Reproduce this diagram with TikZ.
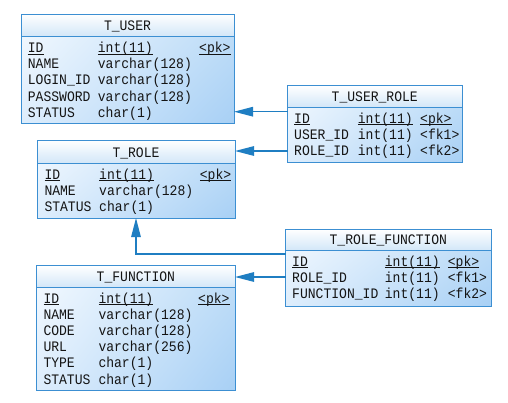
\documentclass[tikz,border=0pt]{standalone}
\usepackage{fontspec}
\newfontfamily\erfont{Liberation Mono}[FakeStretch=0.9]
\usetikzlibrary{arrows.meta,calc,shadings}
\definecolor{erborder}{HTML}{3C8FD2}
\definecolor{erline}{HTML}{1F7EC2}
\definecolor{bodyA}{HTML}{F5FAFF}
\definecolor{bodyL}{HTML}{DDEDFC}
\definecolor{bodyR}{HTML}{C2DFF8}
\definecolor{bodyB}{HTML}{A8D0F5}
\definecolor{headA}{HTML}{FFFFFF}
\definecolor{headB}{HTML}{D3E7F8}
\definecolor{ertext}{HTML}{141414}
\newcommand\ulx[1]{\setbox0\hbox{#1}\rlap{\rule[-1.8pt]{\wd0}{0.7pt}}\box0}
\tikzset{
  erbody/.style={rectangle, inner sep=0pt, outer sep=0pt,
    upper left=bodyA, upper right=bodyR, lower left=bodyL, lower right=bodyB},
  erframe/.style={draw=erborder, line width=0.9pt},
  ertitle/.style={inner sep=0pt, anchor=base, text=ertext, font=\erfont\fontsize{14.5}{16}\selectfont},
  ercell/.style={inner sep=0pt, anchor=base west, text=ertext, font=\erfont\fontsize{14.5}{16}\selectfont},
  fkarrow/.style={draw=erline, line width=1.3pt, -{Triangle[length=19pt,width=9.5pt]}},
}
% #1 name, #2 x, #3 y, #4 width, #5 height, #6 header height, #7 title
\newcommand\ertable[7]{%
  \node[erbody, minimum width=#4pt, minimum height=#5pt, anchor=north west] (#1) at (#2,#3) {};
  \shade[top color=headA, bottom color=headB] (#1.north west) rectangle ([yshift=-#6pt]#1.north east);
  \draw[erframe] (#1.north west) rectangle (#1.south east);
  \draw[erframe] ([yshift=-#6pt]#1.north west) -- ([yshift=-#6pt]#1.north east);
  \node[ertitle] (#1-title) at ([yshift={-(#6-5.8)*1pt}]#1.north) {#7};
}
% #1 name, #2 baseline y, #3 x1, #4 text1, #5 x2, #6 text2, #7 x3, #8 text3
\newcommand\errow[8]{%
  \node[ercell] (#1a) at (#3,#2) {#4};
  \node[ercell] (#1b) at (#5,#2) {#6};
  \node[ercell] (#1c) at (#7,#2) {#8};
}
\begin{document}
\begin{tikzpicture}[x=1pt,y=-1pt]
\useasboundingbox[fill=white] (0,0) rectangle (508,402);

% T_USER
\ertable{user}{21}{14}{213}{109}{22}{T\_USER}
\errow{user1}{52.5}{27.7}{\ulx{ID}}{97.7}{\ulx{int(11)}}{199}{\ulx{<pk>}}
\errow{user2}{68.7}{27.7}{NAME}{97.7}{varchar(128)}{199}{}
\errow{user3}{84.9}{27.7}{LOGIN\_ID}{97.7}{varchar(128)}{199}{}
\errow{user4}{101.1}{27.7}{PASSWORD}{97.7}{varchar(128)}{199}{}
\errow{user5}{117.3}{27.7}{STATUS}{97.7}{char(1)}{199}{}

% T_ROLE
\ertable{role}{37}{140}{198}{78}{23}{T\_ROLE}
\errow{role1}{179}{44.3}{\ulx{ID}}{99}{\ulx{int(11)}}{199.7}{\ulx{<pk>}}
\errow{role2}{195.2}{44.3}{NAME}{99}{varchar(128)}{199.7}{}
\errow{role3}{211.4}{44.3}{STATUS}{99}{char(1)}{199.7}{}

% T_USER_ROLE
\ertable{urole}{287.5}{85.5}{174.5}{77}{21.5}{T\_USER\_ROLE}
\errow{urole1}{123}{294}{\ulx{ID}}{357.7}{\ulx{int(11)}}{420}{\ulx{<pk>}}
\errow{urole2}{139.2}{294}{USER\_ID}{357.7}{int(11)}{420}{<fk1>}
\errow{urole3}{155.4}{294}{ROLE\_ID}{357.7}{int(11)}{420}{<fk2>}

% T_ROLE_FUNCTION
\ertable{rfunc}{285.7}{229}{205.3}{77}{21}{T\_ROLE\_FUNCTION}
\errow{rfunc1}{266}{292}{\ulx{ID}}{384.7}{\ulx{int(11)}}{447.7}{\ulx{<pk>}}
\errow{rfunc2}{282.2}{292}{ROLE\_ID}{384.7}{int(11)}{447.7}{<fk1>}
\errow{rfunc3}{298.4}{292}{FUNCTION\_ID}{384.7}{int(11)}{447.7}{<fk2>}

% T_FUNCTION
\ertable{func}{36.7}{265.7}{198.3}{124.3}{21.3}{T\_FUNCTION}
\errow{func1}{303}{43.3}{\ulx{ID}}{98.3}{\ulx{int(11)}}{198}{\ulx{<pk>}}
\errow{func2}{319.2}{43.3}{NAME}{98.3}{varchar(128)}{198}{}
\errow{func3}{335.4}{43.3}{CODE}{98.3}{varchar(128)}{198}{}
\errow{func4}{351.6}{43.3}{URL}{98.3}{varchar(256)}{198}{}
\errow{func5}{367.8}{43.3}{TYPE}{98.3}{char(1)}{198}{}
\errow{func6}{384}{43.3}{STATUS}{98.3}{char(1)}{198}{}

% connectors
\coordinate (k1) at (0,111.7);
\coordinate (k2) at (0,151);
\coordinate (k3) at (0,254);
\coordinate (k4) at (0,277);
\draw[fkarrow] (urole.west |- k1) -- (user.east |- k1);
\draw[fkarrow] (urole.west |- k2) -- (role.east |- k2);
\draw[fkarrow] (rfunc.west |- k3) -| (role.south);
\draw[fkarrow] (rfunc.west |- k4) -- (func.east |- k4);
\end{tikzpicture}
\end{document}
